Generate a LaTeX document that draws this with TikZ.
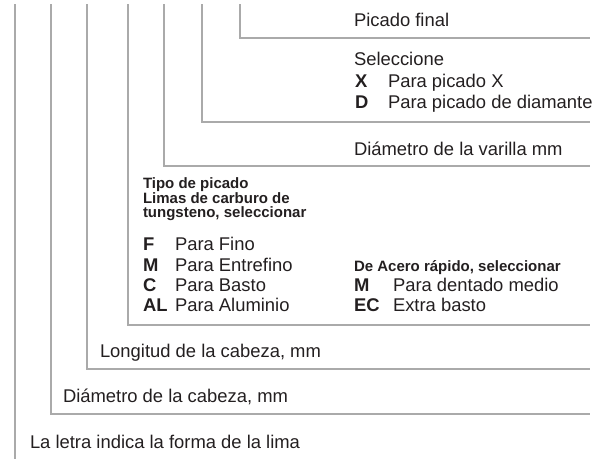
\documentclass[tikz,border=0pt]{standalone}
\usepackage{fontspec}
\setmainfont{Liberation Sans}
\definecolor{linegray}{RGB}{170,170,170}
\definecolor{textdark}{RGB}{35,31,32}
\tikzset{
  leader/.style={draw=linegray, line width=1.4pt},
  lbl/.style={anchor=base west, inner sep=0pt, outer sep=0pt, text=textdark, font=\fontsize{18.4}{20}\selectfont},
  hdr/.style={anchor=base west, inner sep=0pt, outer sep=0pt, text=textdark, font=\fontsize{15}{15}\selectfont\bfseries},
  key/.style={anchor=base west, inner sep=0pt, outer sep=0pt, text=textdark, font=\fontsize{18.4}{20}\selectfont\bfseries},
}
\begin{document}
\begin{tikzpicture}[x=1pt,y=-1pt]
\useasboundingbox (0,0) rectangle (596,459);
% top ends of the leaders
\coordinate (t1) at (15,4);
\coordinate (t2) at (51,4);
\coordinate (t3) at (87,4);
\coordinate (t4) at (128,4);
\coordinate (t5) at (164,4);
\coordinate (t6) at (202,4);
\coordinate (t7) at (240,4);
% right ends of the leaders
\coordinate (e1) at (15,459);
\coordinate (e2) at (590,414);
\coordinate (e3) at (590,369);
\coordinate (e4) at (590,325);
\coordinate (e5) at (590,166);
\coordinate (e6) at (590,122);
\coordinate (e7) at (590,38);
\draw[leader] (t1) -- (e1);
\draw[leader] (t2) |- (e2);
\draw[leader] (t3) |- (e3);
\draw[leader] (t4) |- (e4);
\draw[leader] (t5) |- (e5);
\draw[leader] (t6) |- (e6);
\draw[leader] (t7) |- (e7);
% labels
\node[lbl] (pf) at (354,26) {Picado final};
\node[lbl] (sel) at (354,65) {Seleccione};
\node[key] (kx) at (355,87) {X};
\node[lbl] (px) at (388,87) {Para picado X};
\node[key] (kd) at (355,108) {D};
\node[lbl] (pd) at (388,108) {Para picado de diamante};
\node[lbl] (dv) at (354,155) {Diámetro de la varilla mm};
\node[hdr] (h1) at (143,188) {Tipo de picado};
\node[hdr] (h2) at (143,203) {Limas de carburo de};
\node[hdr] (h3) at (143,217) {tungsteno, seleccionar};
\node[key] (kf) at (143,250) {F};
\node[lbl] (pfi) at (175,250) {Para Fino};
\node[key] (km) at (143,271) {M};
\node[lbl] (pen) at (175,271) {Para Entrefino};
\node[key] (kc) at (143,291) {C};
\node[lbl] (pba) at (175,291) {Para Basto};
\node[key] (kal) at (143,311) {AL};
\node[lbl] (pal) at (175,311) {Para Aluminio};
\node[hdr] (h4) at (354,271) {De Acero rápido, seleccionar};
\node[key] (km2) at (354,291) {M};
\node[lbl] (pdm) at (393,291) {Para dentado medio};
\node[key] (kec) at (354,311) {EC};
\node[lbl] (peb) at (393,311) {Extra basto};
\node[lbl] (lc) at (100,357) {Longitud de la cabeza, mm};
\node[lbl] (dc) at (63,402) {Diámetro de la cabeza, mm};
\node[lbl] (ll) at (30,448) {La letra indica la forma de la lima};
\end{tikzpicture}
\end{document}
